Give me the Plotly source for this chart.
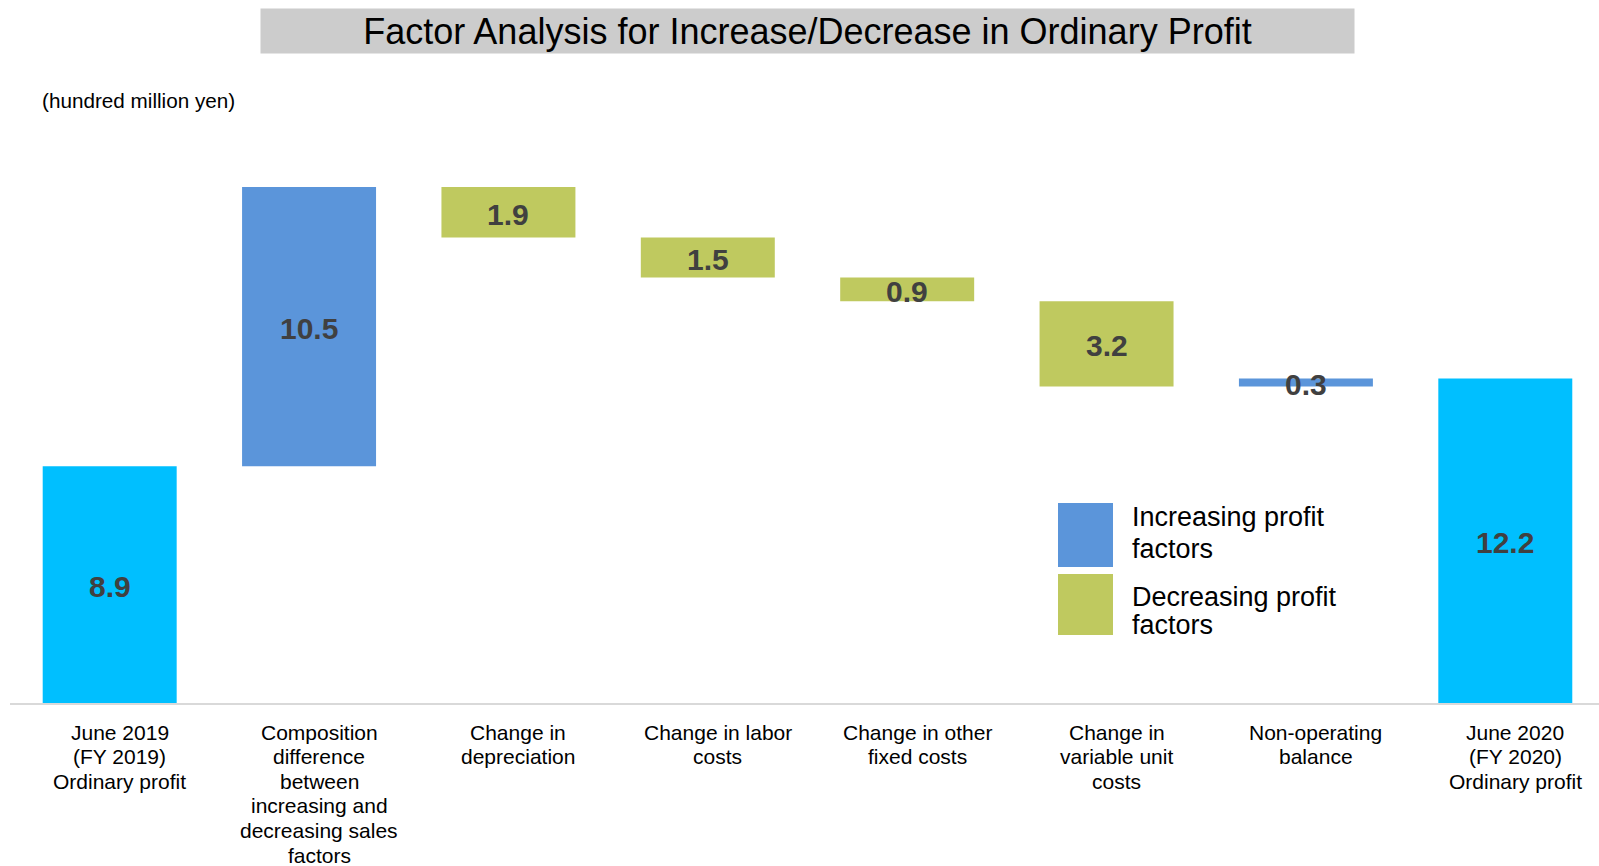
import numpy as np
import plotly.graph_objects as go

# ---------------- data ----------------
categories = [
    "June 2019<br>(FY 2019)<br>Ordinary profit",
    "Composition<br>difference<br>between<br>increasing and<br>decreasing sales<br>factors",
    "Change in<br>depreciation",
    "Change in labor<br>costs",
    "Change in other<br>fixed costs",
    "Change in<br>variable unit<br>costs",
    "Non-operating<br>balance",
    "June 2020<br>(FY 2020)<br>Ordinary profit",
]
values = [8.9, 10.5, -1.9, -1.5, -0.9, -3.2, 0.3, 12.2]
measures = ["absolute", "relative", "relative", "relative", "relative", "relative", "relative", "total"]
label_texts = ["8.9", "10.5", "1.9", "1.5", "0.9", "3.2", "0.3", "12.2"]
legend_labels = ["Increasing profit<br>factors", "Decreasing profit<br>factors"]
title_text = "Factor Analysis for Increase/Decrease in Ordinary Profit"
unit_text = "(hundred million yen)"

# ---------------- styles ----------------
C_TOTAL = "#00BFFF"
C_INC = "#5B95DA"
C_DEC = "#BFC95F"
FONT = "Liberation Sans, Arial, sans-serif"

W, H = 1599, 866
ML, MR, MT, MB = 10, 0, 100, 163
PW, PH = W - ML - MR, H - MT - MB
YMAX = PH / 26.6


def px2paper(px, py):
    return (px - ML) / PW, (H - MB - py) / PH


x = list(range(len(categories)))

# midpoints of each bar for the value labels
running = []
cum = 0.0
for v, m in zip(values, measures):
    if m == "absolute":
        base, top = 0.0, v
        cum = v
    elif m == "total":
        base, top = 0.0, cum
    else:
        base, top = cum, cum + v
        cum = cum + v
    running.append((base + top) / 2)

fig = go.Figure()
fig.add_trace(go.Waterfall(
    x=x, y=values, measure=measures,
    width=0.672,
    increasing=dict(marker=dict(color=C_INC)),
    decreasing=dict(marker=dict(color=C_DEC)),
    totals=dict(marker=dict(color=C_TOTAL)),
    connector=dict(visible=False),
    textposition="none",
    hoverinfo="skip",
    showlegend=False,
))

fig.update_xaxes(
    range=[-0.5, 7.47], tickmode="array", tickvals=x, showticklabels=False,
    showline=True, linecolor="#D9D9D9", linewidth=2, showgrid=False,
    zeroline=False, ticks="",
)
fig.update_yaxes(range=[0, YMAX], visible=False, showgrid=False, zeroline=False)

shapes = []
annotations = []

# value labels centred on each bar
for xi, yi, t in zip(x, running, label_texts):
    annotations.append(dict(
        text=t, xref="x", yref="y", x=xi, y=yi,
        xanchor="center", yanchor="middle", showarrow=False, yshift=-2,
        font=dict(family=FONT, size=30, color="#404040", weight="bold"),
    ))

# category labels, one line at a time for tight line spacing
for xi, cat in zip(x, categories):
    for li, line in enumerate(cat.split("<br>")):
        annotations.append(dict(
            text=line, xref="x", yref="y", x=xi, y=0,
            xanchor="center", yanchor="middle", showarrow=False,
            xshift=10, yshift=-(29 + li * 24.6),
            font=dict(family=FONT, size=21, color="#000000"),
        ))

# title
tx, ty = px2paper(807.5, 31)
annotations.append(dict(
    text=title_text, xref="paper", yref="paper", x=tx, y=ty,
    xanchor="center", yanchor="middle", showarrow=False,
    width=1091, height=42, borderpad=1, bgcolor="#CCCCCC",
    font=dict(family=FONT, size=36, color="#000000"),
))
# unit
ux, uy = px2paper(40, 100)
annotations.append(dict(
    text=unit_text, xref="paper", yref="paper", x=ux, y=uy,
    xanchor="left", yanchor="middle", showarrow=False,
    font=dict(family=FONT, size=20.7, color="#000000"),
))

# manual legend
legend_items = [
    (C_INC, (1058, 503, 1113, 567), (517, 549)),
    (C_DEC, (1058, 574, 1113, 635), (597, 625)),
]
for (col, (x0, y0, x1, y1), ys), lab in zip(legend_items, legend_labels):
    px0, py1 = px2paper(x0, y0)
    px1, py0 = px2paper(x1, y1)
    shapes.append(dict(type="rect", xref="paper", yref="paper",
                       x0=px0, x1=px1, y0=py0, y1=py1,
                       fillcolor=col, line=dict(width=0)))
    for line, cy in zip(lab.split("<br>"), ys):
        lx, ly = px2paper(1130, cy)
        annotations.append(dict(
            text=line, xref="paper", yref="paper", x=lx, y=ly,
            xanchor="left", yanchor="middle", align="left", showarrow=False,
            font=dict(family=FONT, size=27, color="#000000"),
        ))

fig.update_layout(
    width=W, height=H, autosize=False,
    margin=dict(l=ML, r=MR, t=MT, b=MB, pad=0),
    paper_bgcolor="white", plot_bgcolor="white",
    shapes=shapes, annotations=annotations,
    font=dict(family=FONT),
    hovermode=False,
)

fig.write_html(
    "out.html",
    config={"displayModeBar": False, "staticPlot": True},
    post_script="document.body.style.margin='0';document.body.style.overflow='hidden';",
)
